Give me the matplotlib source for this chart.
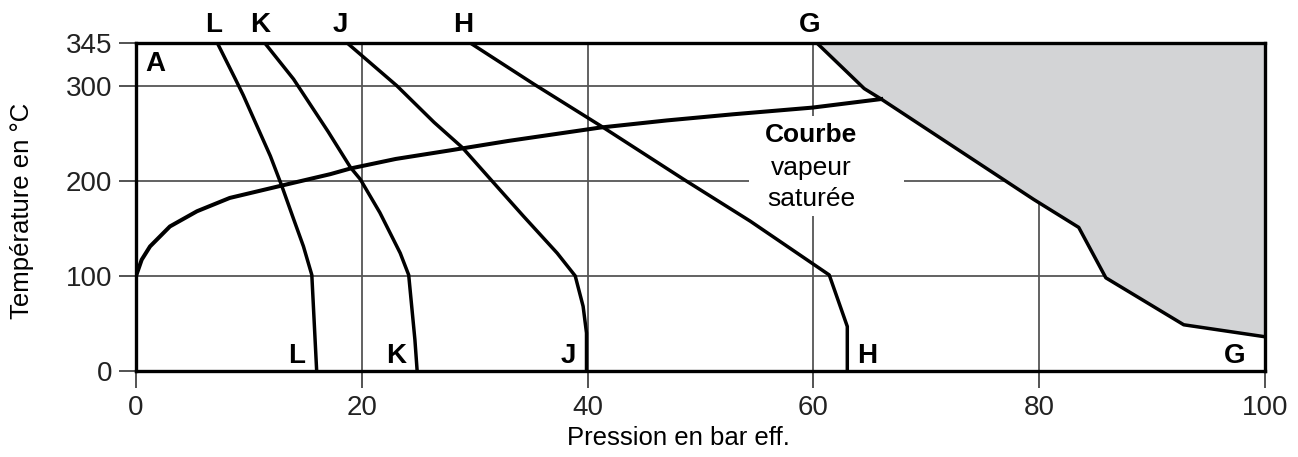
import numpy as np
import matplotlib.pyplot as plt
from matplotlib.patches import Rectangle

plt.rcParams['font.family'] = ['Liberation Sans', 'DejaVu Sans']

# saturated steam curve (pressure bar g, temperature C)
vap_p = [0, 0.5, 1.24, 3.0, 5.4, 8.3, 12.9, 17.2, 19.0, 23.0, 27.8, 33.0, 41.1, 47.0, 52.9, 59.9, 66.0]
vap_t = [100, 117, 131, 152, 168, 182, 195, 207, 213, 223, 232, 242, 256, 263.5, 270, 277, 286]

# limit curves
curves = {
    'L': ([7.2, 8.8, 9.5, 10.7, 11.9, 12.9, 13.95, 14.83, 15.57, 16.0],
          [345, 307, 290, 258, 226, 195, 160, 131, 101, 0]),
    'K': ([11.4, 13.95, 17.0, 19.0, 19.86, 21.6, 23.4, 24.15, 24.7, 24.9],
          [345, 307, 252, 214, 201.7, 166.5, 124, 101, 33, 0]),
    'J': ([18.7, 23.1, 26.4, 28.9, 31.4, 34.3, 37.3, 38.9, 39.6, 39.9, 39.9],
          [345, 300, 261.5, 235, 201.6, 163, 124, 100, 68, 40, 0]),
    'H': ([29.6, 35.2, 41.4, 48.5, 54.4, 61.4, 63.0, 63.0],
          [345, 302, 256, 201.6, 157.6, 101, 46.8, 0]),
}
g_p = [60.3, 64.5, 66.0, 79.5, 83.5, 85.9, 92.8, 100]
g_t = [345, 297, 286, 180.5, 151, 98, 48.6, 36]

top_labels = ['L', 'K', 'J', 'H', 'G']
top_x = [6.9, 11.0, 18.1, 29.0, 59.7]
bottom_labels = ['L', 'K', 'J', 'H', 'G']
bottom_x = [14.2, 23.0, 38.3, 64.8, 97.3]

xticks = [0, 20, 40, 60, 80, 100]
yticks = [0, 100, 200, 300, 345]

fig = plt.figure(figsize=(12.98, 4.57), dpi=100)
ax = fig.add_axes([0.1048, 0.1882, 0.8698, 0.7178])

ax.set_xlim(0, 100)
ax.set_ylim(0, 345)
ax.set_xticks(xticks)
ax.set_yticks(yticks)
ax.tick_params(direction='out', length=12, width=1.3, color='#444444',
               labelsize=20, labelcolor='#222222', pad=5)

# grid
for x in xticks[1:-1]:
    ax.axvline(x, color='#555555', lw=1.3, zorder=0.5)
for y in yticks[1:-1]:
    ax.axhline(y, color='#555555', lw=1.3, zorder=0.5)

# gray zone
ax.fill_betweenx(g_t, g_p, 100, color='#d3d4d6', zorder=1)

# white box behind the label
ax.add_patch(Rectangle((54.3, 163), 13.7, 105.5, facecolor='white',
                       edgecolor='none', zorder=1))

for name, (p, t) in curves.items():
    ax.plot(p, t, color='black', lw=2.5, zorder=3)
ax.plot(g_p, g_t, color='black', lw=2.5, zorder=3)
ax.plot(vap_p, vap_t, color='black', lw=2.9, zorder=3)

for spine in ax.spines.values():
    spine.set_linewidth(2.4)
    spine.set_zorder(4)

for lab, x in zip(top_labels, top_x):
    ax.text(x, 357, lab, ha='center', va='baseline', fontsize=20,
            fontweight='bold', clip_on=False)
for lab, x in zip(bottom_labels, bottom_x):
    ax.text(x, 8.5, lab, ha='center', va='baseline', fontsize=20,
            fontweight='bold', zorder=5)
ax.text(1.7, 315.7, 'A', ha='center', va='baseline', fontsize=20,
        fontweight='bold')

ax.text(59.8, 248, 'Courbe', ha='center', va='center', fontsize=19,
        fontweight='bold', zorder=5)
ax.text(59.8, 214, 'vapeur', ha='center', va='center', fontsize=19, zorder=5)
ax.text(59.8, 180.5, 'saturée', ha='center', va='center', fontsize=19, zorder=5)

fig.text(0.523, 0.042, 'Pression en bar eff.', ha='center', va='center',
         fontsize=18.5)
fig.text(0.017, 0.538, 'Température en °C', ha='center', va='center',
         rotation=90, fontsize=18.5)

fig.savefig('out.png', dpi=100)
